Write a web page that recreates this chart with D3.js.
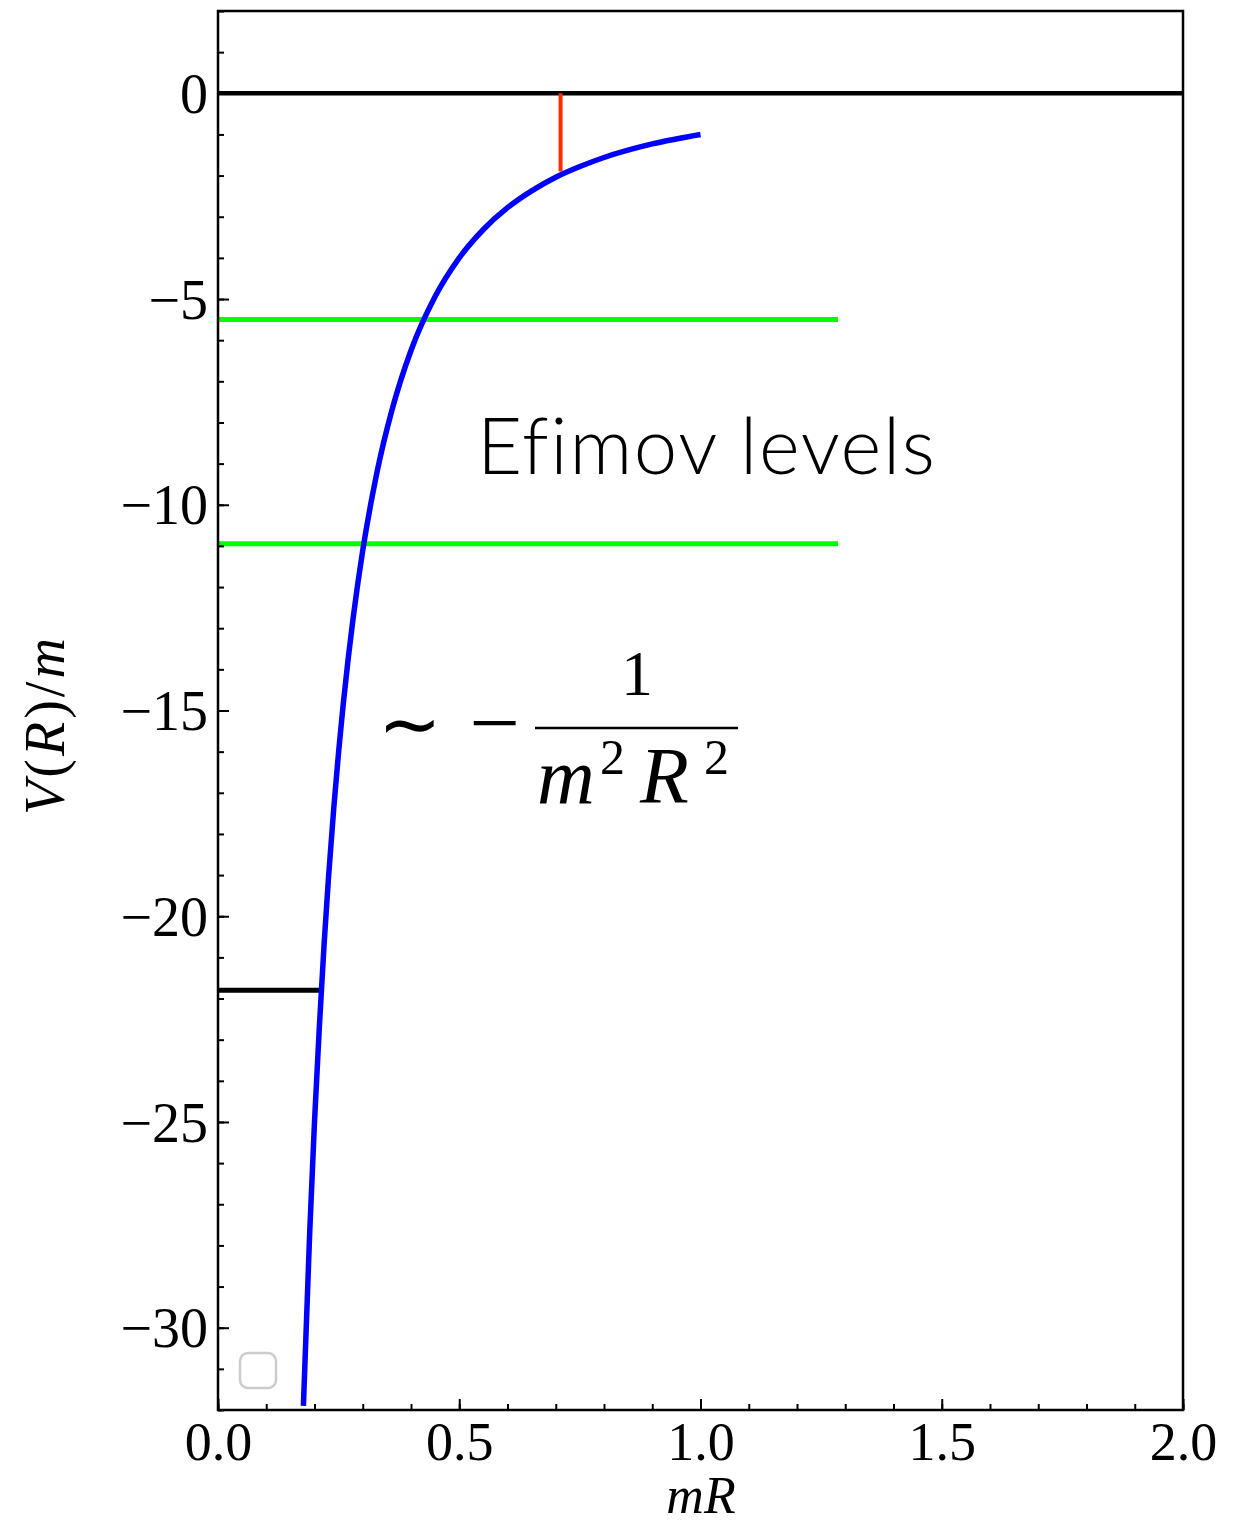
<!DOCTYPE html>
<html><head><meta charset="utf-8">
<script src="https://cdn.jsdelivr.net/npm/d3@7"></script>
<style>body{margin:0;background:#fff}svg{display:block}</style>
</head><body>
<svg id="c" width="1258" height="1529"></svg>
<script>
// Potential curve V(R)/m
const curveX = [0.177, 0.19, 0.2, 0.21, 0.22, 0.24, 0.25, 0.27, 0.28, 0.3, 0.32, 0.33, 0.36, 0.4, 0.45, 0.5, 0.55, 0.6, 0.65, 0.7, 0.75, 0.8, 0.9, 1.0];
const curveY = [-31.9, -27.7, -25.0, -22.7, -20.66, -17.36, -16.0, -13.72, -12.76, -11.11, -9.77, -9.18, -7.72, -6.25, -4.94, -4.0, -3.31, -2.78, -2.37, -2.04, -1.78, -1.56, -1.23, -1.0];
// Horizontal levels
const zeroLine = {y: 0, x0: 0, x1: 2};
const efimovLevels = [-5.5, -10.95];
const efimovX = [0, 1.285];
const cutoffLevel = {y: -21.8, x0: 0, x1: 0.214};
const gapLine = {x: 0.71, y0: 0, y1: -1.9};
const xTicks = [0, 0.5, 1.0, 1.5, 2.0];
const xTickLabels = ["0.0", "0.5", "1.0", "1.5", "2.0"];
const yTicks = [0, -5, -10, -15, -20, -25, -30];
const yTickLabels = ["0", "\u22125", "\u221210", "\u221215", "\u221220", "\u221225", "\u221230"];

const svg = d3.select("#c");
const L = 218, R = 1183, T = 11, B = 1410;
const x = d3.scaleLinear().domain([0, 2]).range([L, R]);
const y = d3.scaleLinear().domain([-32, 2]).range([B, T]);

svg.append("defs").append("clipPath").attr("id", "clip")
  .append("rect").attr("x", L).attr("y", T).attr("width", R - L).attr("height", B - T);
const g = svg.append("g").attr("clip-path", "url(#clip)");

// zero line
g.append("line").attr("x1", x(zeroLine.x0)).attr("x2", x(zeroLine.x1))
  .attr("y1", y(zeroLine.y)).attr("y2", y(zeroLine.y)).attr("stroke", "#000").attr("stroke-width", 4.5);
// Efimov levels
efimovLevels.forEach(v => g.append("line").attr("x1", x(efimovX[0])).attr("x2", x(efimovX[1]))
  .attr("y1", y(v)).attr("y2", y(v)).attr("stroke", "#00ff00").attr("stroke-width", 5));
// cutoff
g.append("line").attr("x1", x(cutoffLevel.x0)).attr("x2", x(cutoffLevel.x1))
  .attr("y1", y(cutoffLevel.y)).attr("y2", y(cutoffLevel.y)).attr("stroke", "#000").attr("stroke-width", 5);
// red gap
g.append("line").attr("x1", x(gapLine.x)).attr("x2", x(gapLine.x))
  .attr("y1", y(gapLine.y0)).attr("y2", y(gapLine.y1)).attr("stroke", "#ff2a00").attr("stroke-width", 4);
// curve
const pts = curveX.map((d, i) => [d, curveY[i]]);
g.append("path").datum(pts).attr("fill", "none").attr("stroke", "#0000ff").attr("stroke-width", 5.5)
  .attr("d", d3.line().x(d => x(d[0])).y(d => y(d[1])).curve(d3.curveMonotoneX));

// axes frame
svg.append("rect").attr("x", L).attr("y", T).attr("width", R - L).attr("height", B - T)
  .attr("fill", "none").attr("stroke", "#000").attr("stroke-width", 2.5);

// ticks (inward)
const xAxis = svg.append("g").attr("transform", `translate(0,${B})`)
  .call(d3.axisBottom(x).tickValues(xTicks).tickSize(-11).tickPadding(0)
    .tickFormat((d, i) => xTickLabels[i]));
const xMinor = svg.append("g").attr("transform", `translate(0,${B})`)
  .call(d3.axisBottom(x).tickValues(d3.range(0, 21).map(i => i / 10)).tickSize(-6).tickFormat(""));
const yAxis = svg.append("g").attr("transform", `translate(${L},0)`)
  .call(d3.axisLeft(y).tickValues(yTicks).tickSize(-11).tickPadding(10)
    .tickFormat((d, i) => yTickLabels[i]));
const yMinor = svg.append("g").attr("transform", `translate(${L},0)`)
  .call(d3.axisLeft(y).tickValues(d3.range(-32, 3)).tickSize(-6).tickFormat(""));
[xAxis, xMinor, yAxis, yMinor].forEach(a => {
  a.select(".domain").remove();
  a.selectAll(".tick line").attr("stroke", "#000").attr("stroke-width", 2);
});
xAxis.selectAll("text").attr("font-family", "Liberation Serif").attr("font-size", 54).attr("fill", "#000")
  .attr("y", 50).attr("dy", 0);
yAxis.selectAll("text").attr("font-family", "Liberation Serif").attr("font-size", 56).attr("fill", "#000").attr("dy", "0.34em");

// axis labels
svg.append("text").attr("x", 701).attr("y", 1513).attr("text-anchor", "middle")
  .attr("font-family", "Liberation Serif").attr("font-style", "italic").attr("font-size", 52).text("mR");
const yl = svg.append("text").attr("transform", "translate(64,725) rotate(-90)").attr("text-anchor", "middle")
  .attr("font-family", "Liberation Serif").attr("font-size", 56).attr("letter-spacing", 3);
yl.append("tspan").attr("font-style", "italic").text("V");
yl.append("tspan").text("(");
yl.append("tspan").attr("font-style", "italic").text("R");
yl.append("tspan").text(")/");
yl.append("tspan").attr("font-style", "italic").text("m");

// legend box (empty)
svg.append("rect").attr("x", 240).attr("y", 1353).attr("width", 36).attr("height", 35).attr("rx", 8)
  .attr("fill", "#fff").attr("stroke", "#ccc").attr("stroke-width", 2.5);

// annotations
svg.append("text").attr("x", 477).attr("y", 474).attr("font-family", "Lato, Liberation Sans")
  .attr("font-size", 78).attr("font-weight", 300).attr("textLength", 458).attr("lengthAdjust", "spacing")
  .style("font-variant-ligatures", "none").style("font-feature-settings", "'liga' 0")
  .text("Efimov levels");

const f = svg.append("g").attr("font-family", "Liberation Serif");
f.append("text").attr("x", 410).attr("y", 750).attr("text-anchor", "middle").attr("font-size", 76).text("\u223C");
f.append("text").attr("x", 495).attr("y", 753).attr("text-anchor", "middle").attr("font-size", 90).text("\u2212");
f.append("text").attr("x", 637).attr("y", 695).attr("text-anchor", "middle").attr("font-size", 64).text("1");
f.append("line").attr("x1", 535).attr("x2", 738).attr("y1", 728).attr("y2", 728).attr("stroke", "#000").attr("stroke-width", 2.5);
const den = f.append("g").attr("font-size", 80);
den.append("text").attr("x", 537).attr("y", 803).attr("font-style", "italic").text("m");
den.append("text").attr("x", 600).attr("y", 774).attr("font-size", 50).text("2");
den.append("text").attr("x", 640).attr("y", 803).attr("font-style", "italic").text("R");
den.append("text").attr("x", 704).attr("y", 774).attr("font-size", 50).text("2");
</script>
</body></html>
